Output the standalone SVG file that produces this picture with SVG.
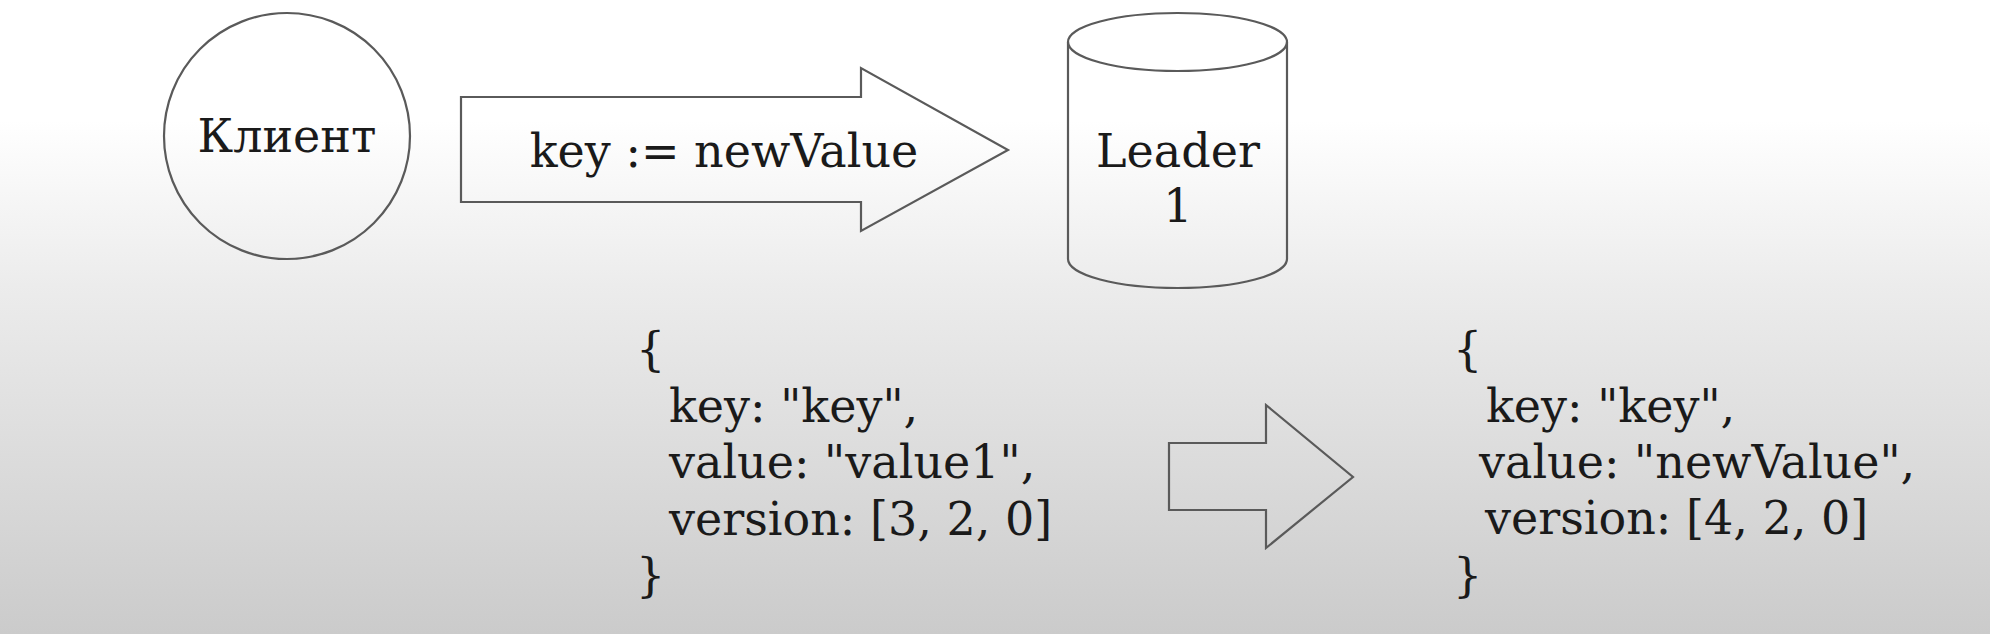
<svg xmlns="http://www.w3.org/2000/svg" width="1990" height="634" viewBox="0 0 1990 634">
<defs>
<linearGradient id="bg" x1="0" y1="0" x2="0" y2="634" gradientUnits="userSpaceOnUse">
<stop offset="0" stop-color="#ffffff"/>
<stop offset="0.19" stop-color="#ffffff"/>
<stop offset="0.45" stop-color="#ececec"/>
<stop offset="1" stop-color="#cbcbcb"/>
</linearGradient>
<style>
.shape{fill:none;stroke:#5a5a5a;stroke-width:2.2;stroke-linejoin:miter}
.t{font-family:"DejaVu Serif","Liberation Serif",serif;font-size:46px;fill:#1a1a1a}
</style>
</defs>
<rect x="0" y="0" width="1990" height="634" fill="url(#bg)"/>
<g id="client">
<circle class="shape" cx="287" cy="136" r="123"/>
<text class="t" x="287" y="152" text-anchor="middle">Клиент</text>
</g>
<g id="connectors">
<g id="request-arrow">
<path class="shape" d="M461,97 L861,97 L861,68 L1008,150 L861,231 L861,202 L461,202 Z"/>
<text class="t" x="724" y="167" text-anchor="middle">key := newValue</text>
</g>
<g id="transition-arrow">
<path class="shape" d="M1169,443 L1266,443 L1266,405 L1353,477 L1266,548 L1266,510 L1169,510 Z"/>
</g>
</g>
<g id="leader">
<path class="shape" d="M1068,42 L1068,259 A109.5,29 0 0 0 1287,259 L1287,42"/>
<ellipse class="shape" cx="1177.5" cy="42" rx="109.5" ry="29"/>
<text class="t" x="1178" y="167" text-anchor="middle">Leader</text>
<text class="t" x="1178" y="222" text-anchor="middle">1</text>
</g>
<g id="record-before">
<text class="t" x="636" y="365">{</text>
<text class="t" x="669" y="422">key: "key",</text>
<text class="t" x="669" y="478">value: "value1",</text>
<text class="t" x="669" y="535">version: [3, 2, 0]</text>
<text class="t" x="636" y="591">}</text>
</g>
<g id="record-after">
<text class="t" x="1453" y="365">{</text>
<text class="t" x="1486" y="422">key: "key",</text>
<text class="t" x="1479" y="478">value: "newValue",</text>
<text class="t" x="1485" y="534">version: [4, 2, 0]</text>
<text class="t" x="1453" y="591">}</text>
</g>
</svg>
